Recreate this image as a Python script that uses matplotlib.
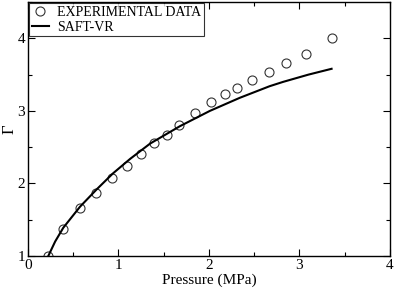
import matplotlib
matplotlib.use("Agg")
import matplotlib.pyplot as plt
from matplotlib.ticker import MultipleLocator

# experimental points
p_exp = [0.224, 0.39, 0.575, 0.751, 0.925, 1.094, 1.249, 1.392, 1.536, 1.668,
         1.845, 2.022, 2.173, 2.313, 2.48, 2.663, 2.85, 3.07, 3.355]
g_exp = [1.0, 1.367, 1.656, 1.87, 2.08, 2.24, 2.41, 2.56, 2.67, 2.80,
         2.977, 3.12, 3.23, 3.32, 3.42, 3.53, 3.66, 3.79, 4.01]

# SAFT-VR curve
p_saft = [0.224, 0.30, 0.39, 0.575, 0.76, 0.94, 1.13, 1.35, 1.68, 2.01,
          2.34, 2.67, 2.82, 3.10, 3.355]
g_saft = [1.0, 1.20, 1.39, 1.68, 1.92, 2.14, 2.34, 2.55, 2.79, 3.00,
          3.18, 3.34, 3.40, 3.50, 3.58]

plt.rcParams['font.family'] = ['Liberation Serif', 'DejaVu Serif']

fig = plt.figure(figsize=(3.96, 2.89), dpi=100)
ax = fig.add_axes([0.0707, 0.114, 0.914, 0.879])

ax.plot(p_exp, g_exp, 'o', ls='none', mfc='none', mec='#333333', mew=0.8,
        ms=6.5, label='EXPERIMENTAL DATA')
ax.plot(p_saft, g_saft, '-', color='black', lw=1.5, label='SAFT-VR')

ax.set_xlim(0, 4)
ax.set_ylim(1, 4.5)
ax.xaxis.set_major_locator(MultipleLocator(1))
ax.xaxis.set_minor_locator(MultipleLocator(0.5))
ax.yaxis.set_major_locator(MultipleLocator(1))
ax.yaxis.set_minor_locator(MultipleLocator(0.5))
ax.tick_params(which='both', direction='in', top=True, right=True,
               labelsize=11, width=0.8, pad=2)
ax.tick_params(which='major', length=5)
ax.tick_params(which='minor', length=3)
for s in ax.spines.values():
    s.set_linewidth(1.0)

ax.set_xlabel('Pressure (MPa)', fontsize=11, labelpad=1)
ax.set_ylabel('Γ', fontsize=12, va='center')
ax.yaxis.set_label_coords(-0.052, 0.5)

leg = ax.legend(loc='upper left', fontsize=10, frameon=True, fancybox=False,
                edgecolor='black', borderaxespad=0.1, handlelength=1.2,
                handletextpad=0.6, labelspacing=0.1, borderpad=0.2)
leg.get_frame().set_linewidth(0.8)

fig.savefig('out.png', dpi=100)
